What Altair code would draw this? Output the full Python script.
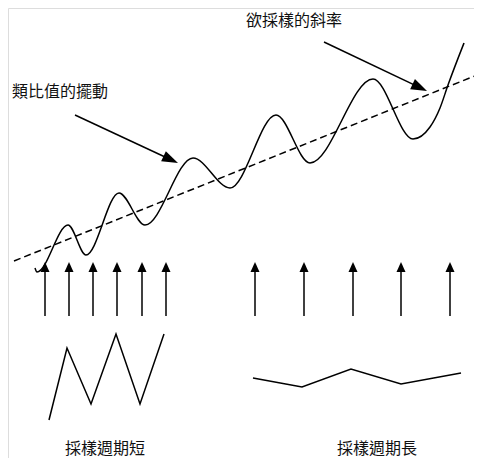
import math
import altair as alt
import pandas as pd

# ---- data (diagram coordinates, same units as the picture) ----
wave_x = [35, 37, 68, 86, 119, 145, 193, 230, 276, 310, 373, 413, 430, 440, 448, 464]
wave_y = [268, 272, 225, 255, 193, 225, 158, 188, 115, 163, 79, 139, 127, 108, 85, 43]

trend_x = [14, 482]
trend_y = [261, 73]

short_x = [45, 69, 93, 117, 142, 166]
long_x = [255, 304, 353, 401, 450]
sample_base_y = 316
sample_tip_y = 262

short_zig_x = [49, 67, 91, 116, 140, 164]
short_zig_y = [420, 348, 404, 334, 404, 334]
long_zig_x = [253, 302, 351, 401, 461]
long_zig_y = [378, 387, 369, 384, 373]

pointer_start_x = [75, 324]
pointer_start_y = [115, 42]
pointer_tip_x = [178, 427]
pointer_tip_y = [163, 91]

labels = ["類比值的擺動", "欲採樣的斜率", "採樣週期短", "採樣週期長"]
label_x = [60, 294, 105, 377]
label_y = [92, 21, 448.5, 448.5]

W, H = 466, 450
xs = alt.Scale(domain=[8, 474], nice=False, zero=False)
ys = alt.Scale(domain=[458, 8], nice=False, zero=False)
X = lambda f: alt.X(f, type="quantitative", scale=xs, axis=None)
Y = lambda f: alt.Y(f, type="quantitative", scale=ys, axis=None)

wave = alt.Chart(pd.DataFrame({"x": wave_x, "y": wave_y})).mark_line(
    interpolate="monotone", color="black", strokeWidth=1.5
).encode(x=X("x"), y=Y("y"))

trend = alt.Chart(pd.DataFrame({"x": trend_x, "y": trend_y})).mark_line(
    color="black", strokeWidth=1.5, strokeDash=[7, 4]
).encode(x=X("x"), y=Y("y"))

# sampling arrows
samp = pd.DataFrame({"x": short_x + long_x})
samp["y0"] = sample_base_y
samp["y1"] = sample_tip_y + 4
samp["tip"] = sample_tip_y
samp["ang"] = 0
samp_lines = alt.Chart(samp).mark_rule(color="black", strokeWidth=1.5).encode(
    x=X("x"), y=Y("y0"), y2="y1"
)
samp_heads = alt.Chart(samp).mark_point(
    shape="M0,0L-0.9,2L0.9,2Z", filled=True, size=100, color="black", opacity=1, strokeWidth=0
).encode(x=X("x"), y=Y("tip"), angle=alt.Angle("ang:Q", scale=None))

# pointer arrows
rows = []
for sx, sy, tx, ty in zip(pointer_start_x, pointer_start_y, pointer_tip_x, pointer_tip_y):
    dx, dy = tx - sx, ty - sy
    L = math.hypot(dx, dy)
    rows.append({
        "sx": sx, "sy": sy, "tx": tx, "ty": ty,
        "ex": tx - dx / L * 6, "ey": ty - dy / L * 6,
        "ang": math.degrees(math.atan2(dx, -dy)),
    })
ptr = pd.DataFrame(rows)
ptr_lines = alt.Chart(ptr).mark_rule(color="black", strokeWidth=1.5).encode(
    x=X("sx"), y=Y("sy"), x2="ex", y2="ey"
)
ptr_heads = alt.Chart(ptr).mark_point(
    shape="M0,0L-0.7,2L0.7,2Z", filled=True, size=256, color="black", opacity=1, strokeWidth=0
).encode(x=X("tx"), y=Y("ty"), angle=alt.Angle("ang:Q", scale=None))

# zigzags
zz = pd.DataFrame({
    "x": short_zig_x + long_zig_x,
    "y": short_zig_y + long_zig_y,
    "g": ["short"] * len(short_zig_x) + ["long"] * len(long_zig_x),
    "i": list(range(len(short_zig_x))) + list(range(len(long_zig_x))),
})
zig = alt.Chart(zz).mark_line(color="black", strokeWidth=1.5).encode(
    x=X("x"), y=Y("y"), detail="g:N", order="i:Q"
)

txt = alt.Chart(pd.DataFrame({"t": labels, "x": label_x, "y": label_y})).mark_text(
    font="Noto Sans CJK TC", fontSize=16, align="center", baseline="middle", color="#111111"
).encode(x=X("x"), y=Y("y"), text="t:N")

chart = alt.layer(
    trend, wave, samp_lines, samp_heads, ptr_lines, ptr_heads, zig, txt
).properties(
    width=W, height=H, autosize=alt.AutoSizeParams(type="none"), padding=0
).configure_view(stroke=None).configure(background="white")

chart.save("out.html", embed_options={"renderer": "svg", "actions": False})
